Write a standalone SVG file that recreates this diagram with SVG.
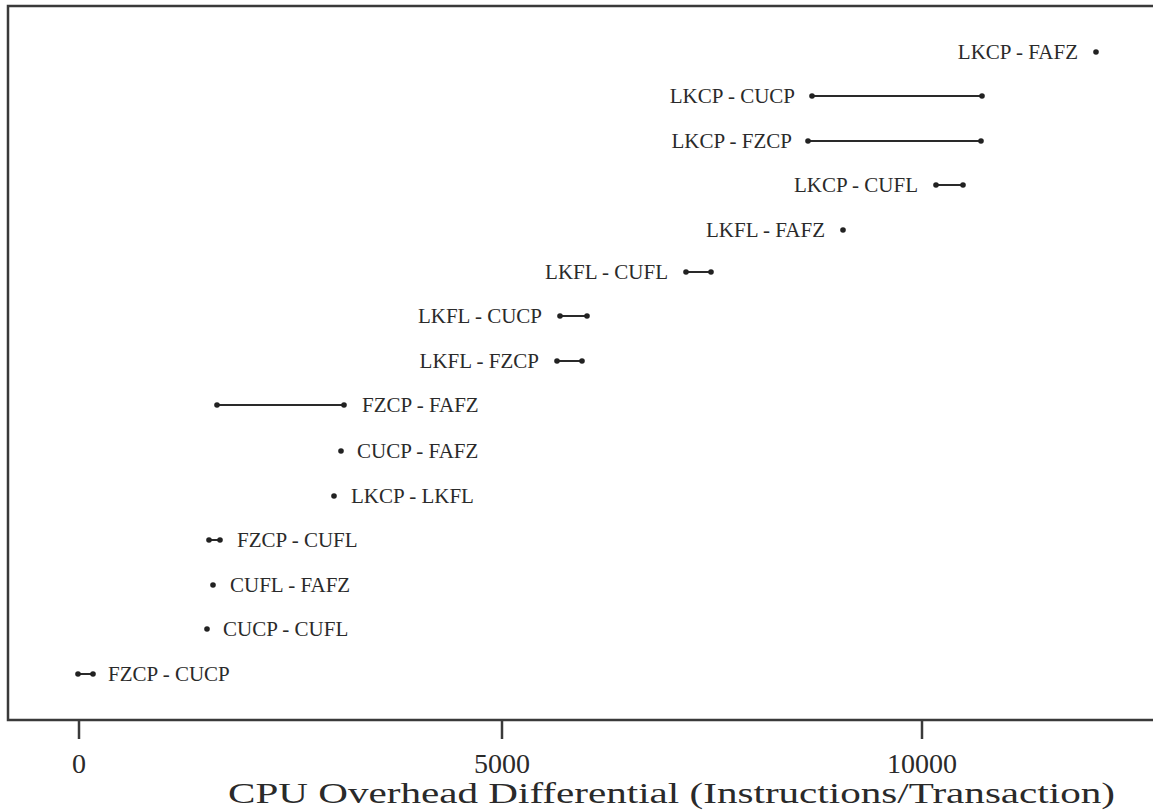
<svg xmlns="http://www.w3.org/2000/svg" width="1153" height="811" viewBox="0 0 1153 811">
<style>
.lbl{font-family:"Liberation Serif","DejaVu Serif",serif;font-size:21px;fill:#2a2a2a}
.tick{font-family:"Liberation Serif","DejaVu Serif",serif;font-size:28px;fill:#2a2a2a}
.title{font-family:"Liberation Serif","DejaVu Serif",serif;font-size:30px;fill:#2a2a2a}
.frame{fill:none;stroke:#3a3a3a;stroke-width:2.5}
.iv{stroke:#2a2a2a;stroke-width:2}
.dot{fill:#222}
</style>
<rect width="1153" height="811" fill="#ffffff"/>
<g id="frame">
<polyline class="frame" points="1153,6 8,6 8,720 1153,720"/>
<line class="frame" x1="79" y1="720" x2="79" y2="739" stroke-width="2"/>
<line class="frame" x1="502" y1="720" x2="502" y2="739" stroke-width="2"/>
<line class="frame" x1="922" y1="720" x2="922" y2="739" stroke-width="2"/>
<text class="tick" x="79" y="773" text-anchor="middle">0</text>
<text class="tick" x="502" y="773" text-anchor="middle">5000</text>
<text class="tick" x="922" y="773" text-anchor="middle">10000</text>
<text class="title" x="228" y="803" textLength="887" lengthAdjust="spacingAndGlyphs">CPU Overhead Differential  (Instructions/Transaction)</text>
</g>
<g id="connectors">
<line class="iv" x1="812" y1="96" x2="982" y2="96"/>
<line class="iv" x1="808" y1="141" x2="981" y2="141"/>
<line class="iv" x1="936" y1="185" x2="963" y2="185"/>
<line class="iv" x1="686" y1="272" x2="711" y2="272"/>
<line class="iv" x1="560" y1="316" x2="587" y2="316"/>
<line class="iv" x1="557" y1="361" x2="582" y2="361"/>
<line class="iv" x1="217" y1="405" x2="344" y2="405"/>
<line class="iv" x1="209" y1="540" x2="220" y2="540"/>
<line class="iv" x1="78" y1="674" x2="93" y2="674"/>
</g>
<g id="n1"><circle class="dot" cx="1096" cy="52" r="2.8"/><text class="lbl" x="1078" y="59" text-anchor="end">LKCP - FAFZ</text></g>
<g id="n2"><circle class="dot" cx="812" cy="96" r="2.8"/><circle class="dot" cx="982" cy="96" r="2.8"/><text class="lbl" x="795" y="103" text-anchor="end">LKCP - CUCP</text></g>
<g id="n3"><circle class="dot" cx="808" cy="141" r="2.8"/><circle class="dot" cx="981" cy="141" r="2.8"/><text class="lbl" x="792" y="148" text-anchor="end">LKCP - FZCP</text></g>
<g id="n4"><circle class="dot" cx="936" cy="185" r="2.8"/><circle class="dot" cx="963" cy="185" r="2.8"/><text class="lbl" x="918" y="192" text-anchor="end">LKCP - CUFL</text></g>
<g id="n5"><circle class="dot" cx="843" cy="230" r="2.8"/><text class="lbl" x="825" y="237" text-anchor="end">LKFL - FAFZ</text></g>
<g id="n6"><circle class="dot" cx="686" cy="272" r="2.8"/><circle class="dot" cx="711" cy="272" r="2.8"/><text class="lbl" x="668" y="279" text-anchor="end">LKFL - CUFL</text></g>
<g id="n7"><circle class="dot" cx="560" cy="316" r="2.8"/><circle class="dot" cx="587" cy="316" r="2.8"/><text class="lbl" x="542" y="323" text-anchor="end">LKFL - CUCP</text></g>
<g id="n8"><circle class="dot" cx="557" cy="361" r="2.8"/><circle class="dot" cx="582" cy="361" r="2.8"/><text class="lbl" x="539" y="368" text-anchor="end">LKFL - FZCP</text></g>
<g id="n9"><circle class="dot" cx="217" cy="405" r="2.8"/><circle class="dot" cx="344" cy="405" r="2.8"/><text class="lbl" x="362" y="412">FZCP - FAFZ</text></g>
<g id="n10"><circle class="dot" cx="341" cy="451" r="2.8"/><text class="lbl" x="357" y="458">CUCP - FAFZ</text></g>
<g id="n11"><circle class="dot" cx="334" cy="496" r="2.8"/><text class="lbl" x="351" y="503">LKCP - LKFL</text></g>
<g id="n12"><circle class="dot" cx="209" cy="540" r="2.8"/><circle class="dot" cx="220" cy="540" r="2.8"/><text class="lbl" x="237" y="547">FZCP - CUFL</text></g>
<g id="n13"><circle class="dot" cx="213" cy="585" r="2.8"/><text class="lbl" x="230" y="592">CUFL - FAFZ</text></g>
<g id="n14"><circle class="dot" cx="207" cy="629" r="2.8"/><text class="lbl" x="223" y="636">CUCP - CUFL</text></g>
<g id="n15"><circle class="dot" cx="78" cy="674" r="2.8"/><circle class="dot" cx="93" cy="674" r="2.8"/><text class="lbl" x="108" y="681">FZCP - CUCP</text></g>
</svg>
